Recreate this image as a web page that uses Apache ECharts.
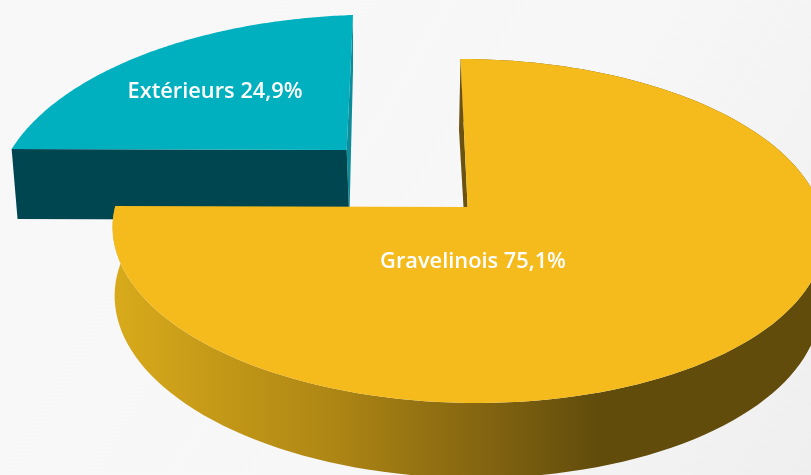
<!DOCTYPE html>
<html>
<head>
<meta charset="utf-8">
<style>
html, body { margin: 0; padding: 0; background: #f7f7f7; }
#chart1 { width: 811px; height: 475px; overflow: hidden; }
</style>
<script src="https://cdn.jsdelivr.net/npm/echarts@6/dist/echarts.min.js"></script>
</head>
<body>
<div id="chart1"></div>
<script>
const categories = ['Extérieurs', 'Gravelinois']
const shares = [24.9, 75.1]
const startShares = [75.1, 0] // cumulative share where each slice begins, clockwise from the top

// the tilted pie plane of each slice: left, top, right, bottom ends of its two axes
const layout = [{
	topFace: [[11, 150], [353, 15], [750, 150], [335, 400]],
	baseFace: [[17, 220], [353, 70], [750, 220], [343, 480]],
	top: '#00b0bf',
	cut: '#004650',
	sliver: '#0d8c9a',
	label: [215, 92]
}, {
	topFace: [[115, 207], [460.5, 59], [820, 207], [477, 403]],
	baseFace: [[120, 265], [463, 122], [812, 265], [481, 478]],
	top: '#f5bb1c',
	sliver: '#6b5210',
	label: [473, 262]
}]

// square -> quad projective map, so the disc keeps its perspective look
function planeMap(q) {
	const [x0, y0] = q[0], [x1, y1] = q[1], [x2, y2] = q[2], [x3, y3] = q[3]
	const dx1 = x1 - x2, dx2 = x3 - x2, sx = x0 - x1 + x2 - x3
	const dy1 = y1 - y2, dy2 = y3 - y2, sy = y0 - y1 + y2 - y3
	const den = dx1 * dy2 - dx2 * dy1
	const g = (sx * dy2 - dx2 * sy) / den
	const h = (dx1 * sy - sx * dy1) / den
	const a = x1 - x0 + g * x1, b = x3 - x0 + h * x3
	const d = y1 - y0 + g * y1, e = y3 - y0 + h * y3
	return function (dirX, dirY) {
		const u = (dirX - dirY + 1) / 2, v = (dirX + dirY + 1) / 2
		const w = g * u + h * v + 1
		return [(a * u + b * v + x0) / w, (d * u + e * v + y0) / w]
	}
}

function arcPoints(map, from, to) {
	const pts = []
	for (let i = 0; i <= 140; i++) {
		const t = from + (to - from) * i / 140
		pts.push(map(Math.sin(t), -Math.cos(t)))
	}
	return pts
}

const shareToAngle = (v) => echarts.number.linearMap(v, [0, 100], [0, Math.PI * 2])

function renderSlice(params, api) {
	const cfg = layout[params.dataIndex]
	const from = shareToAngle(api.value(1))
	const to = from + shareToAngle(api.value(0))
	const topMap = planeMap(cfg.topFace)
	const baseMap = planeMap(cfg.baseFace)
	const apex = topMap(0, 0)
	const baseApex = baseMap(0, 0)
	const topArc = arcPoints(topMap, from, to)
	const baseArc = arcPoints(baseMap, from, to)
	const children = []
	const poly = (points, fill) => ({ type: 'polygon', shape: { points }, style: { fill } })

	if (params.dataIndex === 1) {
		// rim shading runs left to right, flat dark past x=600
		children.push(poly(topArc.concat(baseArc.slice().reverse()), new echarts.graphic.LinearGradient(113, 0, 600, 0, [
			{ offset: 0, color: '#d8aa1b' },
			{ offset: 0.45, color: '#ae8614' },
			{ offset: 0.75, color: '#856611' },
			{ offset: 1, color: '#614c0c' }
		], true)))
		children.push(poly([topArc[0], apex, [463.5, 207], [459, 130]], cfg.sliver))
	} else {
		children.push(poly([topArc[140], apex, baseApex, baseArc[140]], cfg.sliver))
		children.push(poly([apex, topArc[0], baseArc[0], baseApex], cfg.cut))
	}
	children.push(poly([apex].concat(topArc), cfg.top))
	children.push({
		type: 'text',
		x: cfg.label[0],
		y: cfg.label[1],
		style: {
			text: api.value(2) + ' ' + String(api.value(0)).replace('.', ',') + '%',
			fill: '#fff',
			font: '600 21.8px "Open Sans"',
			align: 'center',
			verticalAlign: 'middle'
		}
	})
	return { type: 'group', children }
}

const chart = echarts.init(document.getElementById('chart1'), null, { renderer: 'canvas' })
chart.setOption({
	backgroundColor: new echarts.graphic.LinearGradient(0, 0, 1, 1, [
		{ offset: 0, color: '#f8f8f8' },
		{ offset: 0.6, color: '#f7f7f7' },
		{ offset: 1, color: '#efefef' }
	]),
	animation: false,
	series: [{
		type: 'custom',
		coordinateSystem: 'none',
		renderItem: renderSlice,
		data: categories.map((name, i) => [shares[i], startShares[i], name])
	}]
})
</script>
</body>
</html>
